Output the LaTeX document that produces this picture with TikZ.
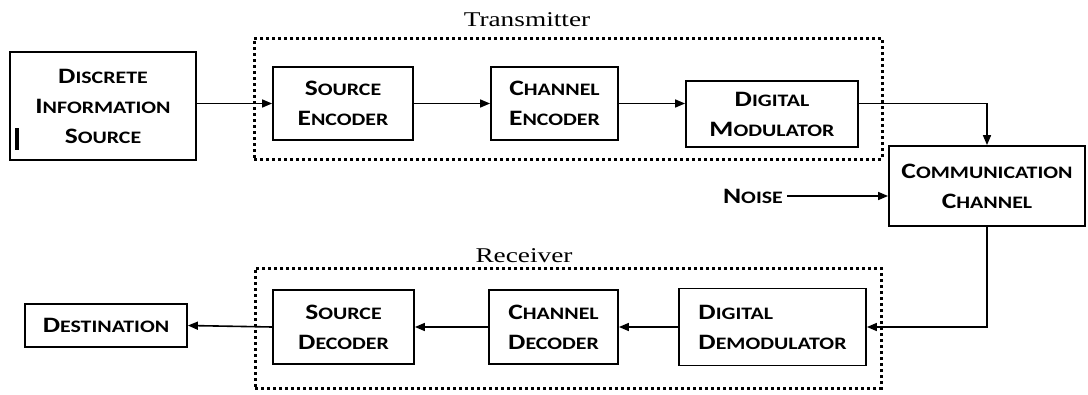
\documentclass[tikz,border=0pt]{standalone}
\usepackage{fontspec}
\newfontfamily\boxfont[FakeStretch=1.25]{Carlito}
\newfontfamily\labfont[FakeStretch=1.3]{Liberation Serif}
\usetikzlibrary{arrows.meta}
\newcommand\Sc[2]{{\fontsize{22}{30}\selectfont #1}{\fontsize{17.5}{30}\selectfont #2}}
\tikzset{
  blk/.style={draw, line width=1.8pt, rectangle, inner sep=0pt, align=center,
    font=\boxfont\bfseries\fontsize{17.5}{30}\selectfont},
  grp/.style={draw, line width=3pt, dash pattern=on 3pt off 3pt, rectangle, inner sep=0pt},
  con/.style={line width=1.6pt, -{Triangle[length=10pt,width=8pt]}},
  lab/.style={font=\labfont\fontsize{21}{21}\selectfont, inner sep=0pt}
}
\begin{document}
\begin{tikzpicture}[x=1pt,y=-1pt]
\useasboundingbox (0,0) rectangle (1088,394);
% group frames
\node[grp, minimum width=628pt, minimum height=121pt] (tx) at (568,98.5) {};
\node[grp, minimum width=626pt, minimum height=120pt] (rx) at (568,328) {};
\node[lab] (txl) at (527,20) {Transmitter};
\node[lab] (rxl) at (524,256) {Receiver};
% blocks
\node[blk, minimum width=186pt, minimum height=108pt] (disc) at (103,106)
  {\Sc{D}{ISCRETE}\\\Sc{I}{NFORMATION}\\\Sc{S}{OURCE}};
\fill (15,128) rectangle (19,150);
\node[blk, minimum width=140pt, minimum height=73pt] (senc) at (343,103.5)
  {\Sc{S}{OURCE}\\\Sc{E}{NCODER}};
\node[blk, minimum width=127pt, minimum height=73pt] (cenc) at (554.5,103.5)
  {\Sc{C}{HANNEL}\\\Sc{E}{NCODER}};
\node[blk, minimum width=172pt, minimum height=66pt] (dmod) at (772,114)
  {\Sc{D}{IGITAL}\\\Sc{M}{ODULATOR}};
\node[blk, minimum width=196pt, minimum height=80pt] (chan) at (987,186)
  {\Sc{C}{OMMUNICATION}\\\Sc{C}{HANNEL}};
\node[font=\boxfont\bfseries\fontsize{17.5}{30}\selectfont, inner sep=4pt] (noise) at (753,196) {\Sc{N}{OISE}};
\node[blk, minimum width=187pt, minimum height=77pt, align=left] (ddem) at (772.5,327)
  {\Sc{D}{IGITAL}\\\Sc{D}{EMODULATOR}};
\node[blk, minimum width=129pt, minimum height=74pt] (cdec) at (553.5,327)
  {\Sc{C}{HANNEL}\\\Sc{D}{ECODER}};
\node[blk, minimum width=141pt, minimum height=74pt] (sdec) at (343.5,327)
  {\Sc{S}{OURCE}\\\Sc{D}{ECODER}};
\node[blk, minimum width=162pt, minimum height=43pt] (dest) at (106,325.5)
  {\Sc{D}{ESTINATION}};
% connectors
\draw[con] (disc.east |- senc.west) -- (senc.west);
\draw[con] (senc.east) -- (cenc.west);
\draw[con] (cenc.east) -- (cenc.east -| dmod.west);
\draw[con] (dmod.east |- cenc.east) -| (chan.north);
\draw[con] (noise.east) -- (noise.east -| chan.west);
\draw[con] (chan.south) |- (ddem.east);
\draw[con] (ddem.west) -- (cdec.east);
\draw[con] (cdec.west) -- (sdec.east);
\draw[con] (sdec.west) -- (dest.east);
\end{tikzpicture}
\end{document}
